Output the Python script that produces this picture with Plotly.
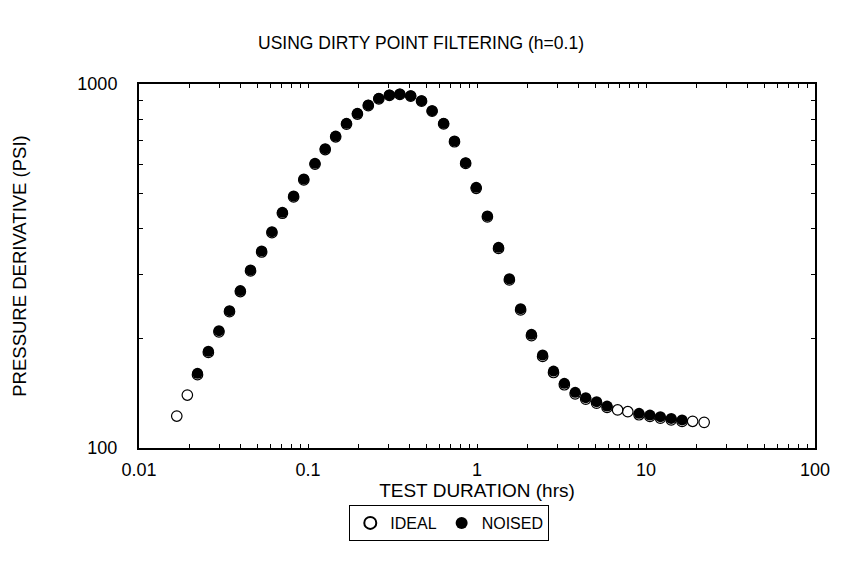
import plotly.graph_objects as go

ideal_t = [0.01673, 0.01932, 0.02219, 0.02573, 0.02972, 0.03431, 0.03978, 0.04570, 0.05318, 0.06117,
           0.07055, 0.08222, 0.09445, 0.1100, 0.1264, 0.1458, 0.1690, 0.1960, 0.2273, 0.2624,
           0.3030, 0.3495, 0.4052, 0.4697, 0.5424, 0.6348, 0.7359, 0.8568, 0.9892, 1.152,
           1.341, 1.554, 1.812, 2.100, 2.445, 2.836, 3.287, 3.811, 4.401, 5.103,
           5.884, 6.794, 7.804, 9.095, 10.55, 12.16, 14.10, 16.35, 18.88, 22.09]
ideal_dp = [122.4, 139.8, 159.0, 183.0, 208.5, 237.0, 269.0, 306.5, 345.5, 390.5,
            441.5, 489.5, 545.0, 602.0, 660.5, 716.0, 776.0, 827.0, 872.0, 910.0,
            930.0, 936.0, 926.0, 897.0, 842.0, 777.0, 694.0, 605.0, 517.0, 431.5,
            353.5, 289.5, 239.5, 203.5, 178.5, 161.2, 149.2, 140.8, 136.2, 132.8,
            129.3, 127.2, 125.8, 123.4, 122.1, 120.8, 119.5, 118.3, 118.4, 117.6]

noised_t = [0.02219, 0.02573, 0.02972, 0.03431, 0.03978, 0.04570, 0.05318, 0.06117,
            0.07055, 0.08222, 0.09445, 0.1100, 0.1264, 0.1458, 0.1690, 0.1960, 0.2273, 0.2624,
            0.3030, 0.3495, 0.4052, 0.4697, 0.5424, 0.6348, 0.7359, 0.8568, 0.9892, 1.152,
            1.341, 1.554, 1.812, 2.100, 2.445, 2.836, 3.287, 3.811, 4.401, 5.103,
            5.884, 9.095, 10.55, 12.16, 14.10, 16.35]
noised_dp = [160.4, 184.4, 210.0, 238.4, 270.8, 308.3, 347.7, 392.8,
             444.1, 492.4, 548.3, 605.6, 664.3, 719.6, 779.8, 830.9, 875.7, 913.6,
             933.0, 938.9, 929.0, 900.0, 844.6, 779.8, 697.3, 607.9, 520.2, 434.0,
             356.0, 291.7, 241.4, 205.3, 180.1, 162.7, 150.6, 142.2, 137.5, 134.0,
             130.4, 124.5, 123.2, 121.9, 120.6, 119.4]

x_tick_vals = [0.01, 0.1, 1, 10, 100]
x_tick_text = ["0.01", "0.1", "1", "10", "100"]
y_tick_vals = [100, 1000]
y_tick_text = ["100", "1000"]

def log_ticks(decades, last, labels):
    vals, text = [], []
    for d in decades:
        for m in range(1, 10):
            vals.append(m * d)
            text.append("")
    vals.append(last)
    text.append("")
    for i, v in enumerate(vals):
        for lv, lt in labels:
            if abs(v - lv) / lv < 1e-9:
                text[i] = lt
    return vals, text

xv, xt = log_ticks([0.01, 0.1, 1, 10], 100, list(zip(x_tick_vals, x_tick_text)))
yv, yt = log_ticks([100], 1000, list(zip(y_tick_vals, y_tick_text)))

FAM = "Liberation Sans, Arial, sans-serif"
def F(size):
    return dict(family=FAM, size=size, color="black")

fig = go.Figure()
fig.add_trace(go.Scatter(
    x=ideal_t, y=ideal_dp, mode="markers", name="IDEAL",
    marker=dict(symbol="circle-open", size=10.5, color="black", line=dict(width=1.2)),
))
fig.add_trace(go.Scatter(
    x=noised_t, y=noised_dp, mode="markers", name="NOISED",
    marker=dict(symbol="circle", size=11, color="black"),
))

fig.update_layout(
    width=842, height=571,
    margin=dict(l=139, r=18, t=84, b=123),
    paper_bgcolor="white", plot_bgcolor="white",
    font=F(16),
    title=dict(text="USING DIRTY POINT FILTERING (h=0.1)", x=0.5, xanchor="center",
               y=1 - 43 / 571, yanchor="middle", font=F(17.5)),
    showlegend=True,
    legend=dict(orientation="h", x=0.459, xanchor="center", y=-0.206, yanchor="middle",
                bordercolor="black", borderwidth=1, bgcolor="white",
                font=F(16), itemsizing="constant", itemwidth=30,
                tracegroupgap=0),
)
fig.update_xaxes(
    type="log", range=[-2, 2],
    tickmode="array", tickvals=xv, ticktext=xt,
    ticks="inside", ticklen=4, tickcolor="black", tickwidth=1,
    tickfont=F(18), ticklabelstandoff=4,
    showline=True, linecolor="black", linewidth=2, mirror="ticks",
    showgrid=False, zeroline=False,
    title=dict(text="TEST DURATION (hrs)", standoff=0, font=F(19)),
)
fig.update_yaxes(
    type="log", range=[2, 3],
    tickmode="array", tickvals=yv, ticktext=yt,
    ticks="inside", ticklen=4, tickcolor="black", tickwidth=1,
    tickfont=F(18), ticklabelstandoff=16,
    showline=True, linecolor="black", linewidth=2, mirror="ticks",
    showgrid=False, zeroline=False,
    title=dict(text="PRESSURE DERIVATIVE (PSI)", standoff=46, font=F(18.5)),
)

fig.write_html("out.html")
